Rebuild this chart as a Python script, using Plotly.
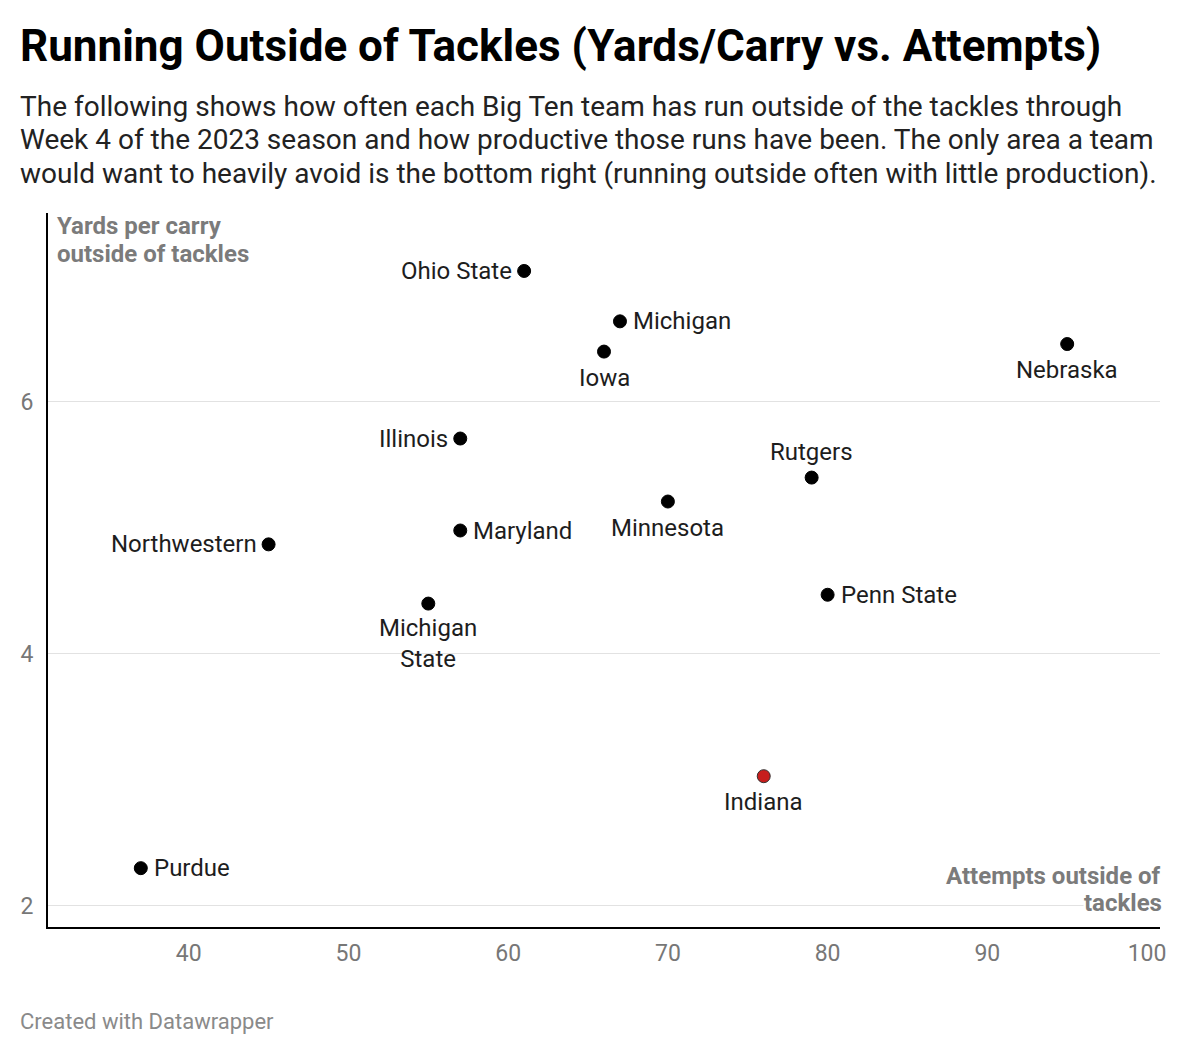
import plotly.graph_objects as go

teams = ["Ohio State", "Michigan", "Iowa", "Nebraska", "Illinois", "Rutgers", "Minnesota",
         "Maryland", "Northwestern", "Penn State", "Michigan<br>State", "Indiana", "Purdue"]
attempts = [61, 67, 66, 95, 57, 79, 70, 57, 45, 80, 55, 76, 37]
ypc = [7.04, 6.64, 6.40, 6.46, 5.71, 5.40, 5.21, 4.98, 4.87, 4.47, 4.40, 3.03, 2.30]
highlight = ["Indiana"]

x_ticks = [40, 50, 60, 70, 80, 90, 100]
y_ticks = [2, 4, 6]

# label placement style: (xanchor, xshift, yshift)
label_style = {
    "left": ("right", -10, 0),
    "right": ("left", 11, 0),
    "below": ("center", 0, -26),
    "above": ("center", 0, 26),
    "below2": ("center", 0, -40),
}
label_side = ["left", "right", "below", "below", "left", "above", "below",
              "right", "left", "right", "below2", "below", "right"]

colors = ["#c71e1d" if t in highlight else "#000000" for t in teams]
line_colors = ["#333333" if t in highlight else "#000000" for t in teams]

OFF = 8  # page body margin
PAD = 4  # annotation inner padding
W, H = 1180, 1046
L, T = 46 - OFF, 213 - OFF
R = W - (1160 - OFF)
B = H - (927 - OFF)
pw = W - L - R
ph = H - T - B

def px(xp):
    return (xp - OFF - L) / pw

def py(yp):
    return (H - B - (yp - OFF)) / ph

fig = go.Figure()
fig.add_trace(go.Scatter(
    x=attempts, y=ypc, mode="markers",
    marker=dict(size=13, color=colors, line=dict(color=line_colors, width=1)),
    hoverinfo="skip", showlegend=False, cliponaxis=False,
))

annotations = []
for t, xv, yv, side in zip(teams, attempts, ypc, label_side):
    xa, xs, ys = label_style[side]
    annotations.append(dict(text=t, x=xv, y=yv, xref="x", yref="y", xanchor=xa, yanchor="middle",
                            xshift=xs, yshift=ys, showarrow=False, align="center",
                            font=dict(family="Roboto", size=24, color="#1d1d1d")))

subtitle_lines = [
    "The following shows how often each Big Ten team has run outside of the tackles through",
    "Week 4 of the 2023 season and how productive those runs have been. The only area a team",
    "would want to heavily avoid is the bottom right (running outside often with little production).",
]

annotations.append(dict(text="<b>Running Outside of Tackles (Yards/Carry vs. Attempts)</b>",
                        x=px(20 - PAD), y=py(46), xref="paper", yref="paper", xanchor="left", yanchor="middle",
                        showarrow=False, font=dict(family="Roboto", size=44, color="#000000")))
for i, line in enumerate(subtitle_lines):
    annotations.append(dict(text=line, x=px(20 - PAD), y=py(106 + 34 * i), xref="paper", yref="paper",
                            xanchor="left", yanchor="middle", showarrow=False,
                            font=dict(family="Roboto", size=28, color="#222222")))
annotations += [
    dict(text="<b>Yards per carry</b>", x=px(57 - PAD), y=py(226), xref="paper", yref="paper",
         xanchor="left", yanchor="middle", showarrow=False,
         font=dict(family="Roboto", size=24, color="#7b7b7b")),
    dict(text="<b>outside of tackles</b>", x=px(57 - PAD), y=py(254), xref="paper", yref="paper",
         xanchor="left", yanchor="middle", showarrow=False,
         font=dict(family="Roboto", size=24, color="#7b7b7b")),
    dict(text="<b>Attempts outside of</b>", x=px(1160 + 3), y=py(876), xref="paper", yref="paper",
         xanchor="right", yanchor="middle", showarrow=False,
         font=dict(family="Roboto", size=24, color="#7b7b7b")),
    dict(text="<b>tackles</b>", x=px(1160 + 3), y=py(903), xref="paper", yref="paper",
         xanchor="right", yanchor="middle", showarrow=False, bgcolor="#ffffff", borderpad=0,
         font=dict(family="Roboto", size=24, color="#7b7b7b")),
    dict(text="Created with Datawrapper", x=px(20 - PAD), y=py(1021), xref="paper", yref="paper",
         xanchor="left", yanchor="middle", showarrow=False,
         font=dict(family="Roboto", size=22, color="#8a8a8a")),
]

fig.update_layout(
    width=W, height=H,
    margin=dict(l=L, r=R, t=T, b=B, pad=0),
    paper_bgcolor="#ffffff", plot_bgcolor="#ffffff",
    annotations=annotations,
    font=dict(family="Roboto"),
    xaxis=dict(range=[31.19, 100.81], tickvals=x_ticks, showgrid=False, zeroline=False,
               showline=True, linecolor="#000000", linewidth=2, ticks="",
               ticklabelstandoff=4,
               tickfont=dict(family="Roboto", size=23, color="#777777")),
    yaxis=dict(range=[1.833, 7.5], tickvals=y_ticks, showgrid=True, gridcolor="#e2e2e2", gridwidth=1,
               zeroline=False, showline=True, linecolor="#000000", linewidth=2, ticks="",
               ticklabelstandoff=8,
               tickfont=dict(family="Roboto", size=23, color="#777777")),
)

fig.write_html("out.html")
